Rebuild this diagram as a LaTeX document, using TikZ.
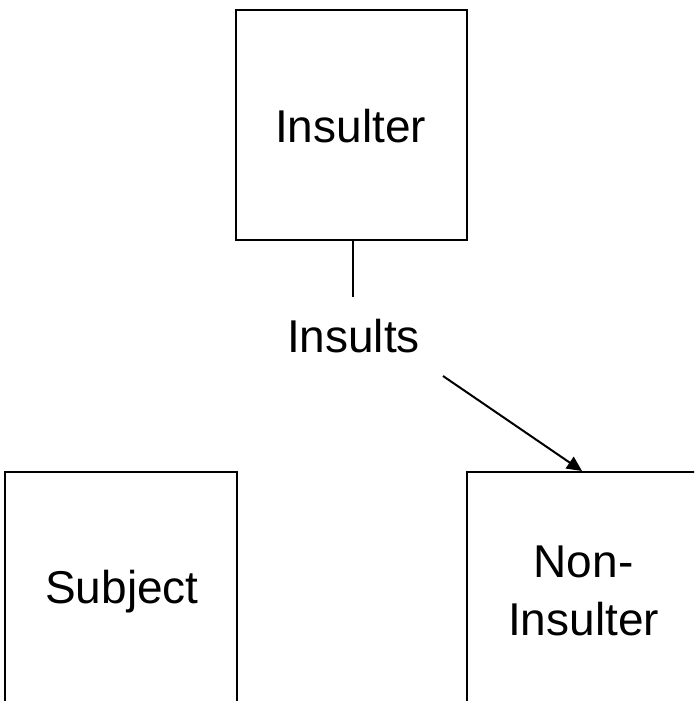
\documentclass[tikz,border=0pt]{standalone}
\usepackage{fontspec}
\setmainfont{Liberation Sans}
\usetikzlibrary{arrows.meta}
\begin{document}
\begin{tikzpicture}[x=1pt,y=-1pt,
  box/.style={draw=black,line width=2pt,minimum width=#1,minimum height=230pt,inner sep=0pt},
  box/.default=231pt,
  lbl/.style={font=\fontsize{46}{58}\selectfont,inner sep=0pt,anchor=base,align=center},
  conn/.style={draw=black,line width=2pt}]
\path[use as bounding box] (0,0) rectangle (694,701);
\clip (0,0) rectangle (694,701);
\fill[white] (0,0) rectangle (694,701);
% boxes
\node[box] (ins) at (351.8,125.3) {};
\node[box=232pt] (sub) at (121,587) {};
\node[box=232pt] (non) at (583,587) {};
% texts
\node[lbl] (tins) at (350.5,142) {Insulter};
\node[lbl] (tsub) at (122,603) {Subject};
\node[lbl] (tnon) at (583.5,635) {Non-\\Insulter};
\node[lbl] (tact) at (353.5,352) {Insults};
% connectors
\coordinate (lend) at (353.3,297);
\coordinate (astart) at (443,376);
\coordinate (atip) at (582,472);
\draw[conn] (lend |- ins.south) -- (lend);
\draw[conn,-{Triangle[length=15pt,width=14pt]}] (astart) -- (atip |- non.north);
\end{tikzpicture}
\end{document}
